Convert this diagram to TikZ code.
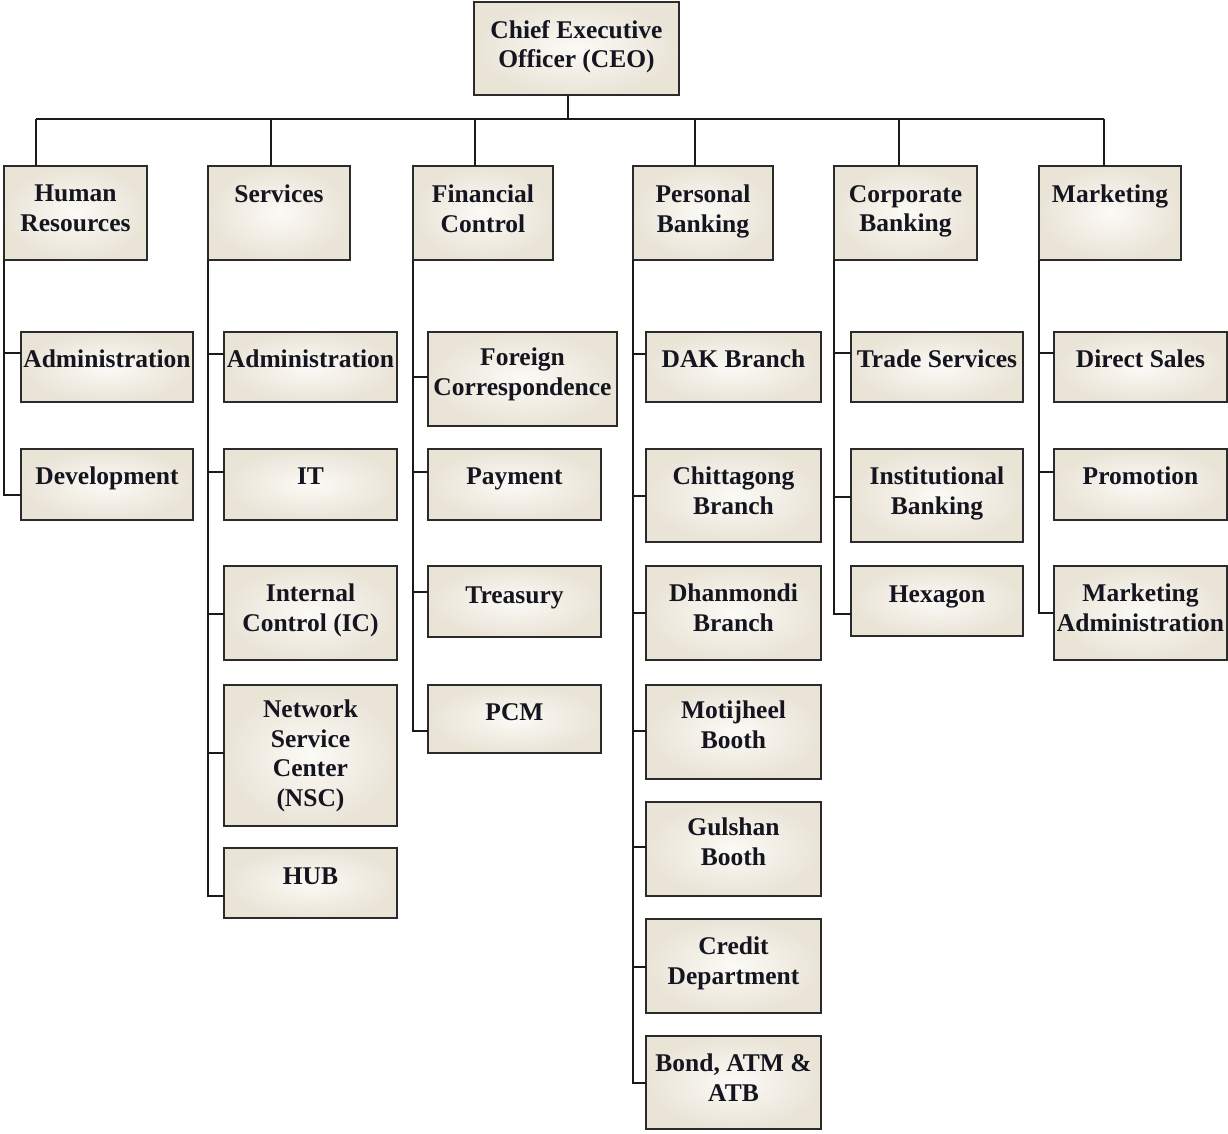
\documentclass[tikz,border=0pt]{standalone}
\usepackage{fontspec}
\setmainfont{Liberation Serif}
\usetikzlibrary{calc}
\definecolor{boxline}{HTML}{2B2B2B}
\definecolor{conline}{HTML}{1A1A1A}
\definecolor{boxin}{HTML}{FBFAF6}
\definecolor{boxout}{HTML}{EAE4D7}
\definecolor{txt}{HTML}{15151F}
\tikzset{
  obox/.style={draw=boxline, line width=2.2pt, shading=radial, inner color=boxin, outer color=boxout, inner sep=0pt, outer sep=0pt},
  otext/.style={inner sep=0pt, align=center, text=txt, font=\fontsize{25.5}{29.5}\selectfont\bfseries, execute at begin node=\strut},
  conn/.style={draw=conline, line width=2pt}
}
% name, x1, y1, x2, y2, text offset, text
\newcommand\obox[7]{%
  \node[obox, minimum width={(#4-#2)*1pt}, minimum height={(#5-#3)*1pt}] (#1) at ({(#2+#4)/2},{(#3+#5)/2}) {};
  \node[otext, anchor=north] (#1-t) at ([yshift=-#6pt]#1.north) {#7};
}
\newcommand\otick[2]{\coordinate (#1-k) at ([yshift=-#2pt]#1.north west);}
\begin{document}
\begin{tikzpicture}[x=1pt,y=-1pt]
\useasboundingbox[fill=white] (0,0) rectangle (1228,1133);
% top
\obox{ceo}{474}{2}{679}{95}{18}{Chief Executive\\Officer (CEO)}
% level 1
\obox{hr}{4}{166}{147}{260}{19}{Human\\Resources}
\obox{sv}{208}{166}{350}{260}{16}{Services}
\obox{fc}{413}{166}{553}{260}{19}{Financial\\Control}
\obox{pb}{633}{166}{773}{260}{19}{Personal\\Banking}
\obox{cb}{834}{166}{977}{260}{19}{Corporate\\Banking}
\obox{mk}{1039}{166}{1181}{260}{16}{Marketing}
% level 2
\obox{hr1}{21}{332}{193}{402}{15}{Administration}
\obox{hr2}{21}{449}{193}{520}{15}{Development}
\obox{sv1}{224}{332}{397}{402}{15}{Administration}
\obox{sv2}{224}{449}{397}{520}{15}{IT}
\obox{sv3}{224}{566}{397}{660}{18}{Internal\\Control (IC)}
\obox{sv4}{224}{685}{397}{826}{15}{Network\\Service\\Center\\(NSC)}
\obox{sv5}{224}{848}{397}{918}{16}{HUB}
\obox{fc1}{428}{332}{617}{426}{16}{Foreign\\Correspondence}
\obox{fc2}{428}{449}{601}{520}{15}{Payment}
\obox{fc3}{428}{566}{601}{637}{17}{Treasury}
\obox{fc4}{428}{685}{601}{753}{15}{PCM}
\obox{pb1}{646}{332}{821}{402}{15}{DAK Branch}
\obox{pb2}{646}{449}{821}{542}{18}{Chittagong\\Branch}
\obox{pb3}{646}{566}{821}{660}{18}{Dhanmondi\\Branch}
\obox{pb4}{646}{685}{821}{779}{16}{Motijheel\\Booth}
\obox{pb5}{646}{802}{821}{896}{16}{Gulshan\\Booth}
\obox{pb6}{646}{919}{821}{1013}{18}{Credit\\Department}
\obox{pb7}{646}{1036}{821}{1129}{18}{Bond, ATM \&\\ATB}
\obox{cb1}{851}{332}{1023}{402}{15}{Trade Services}
\obox{cb2}{851}{449}{1023}{542}{18}{Institutional\\Banking}
\obox{cb3}{851}{566}{1023}{636}{16}{Hexagon}
\obox{mk1}{1054}{332}{1227}{402}{15}{Direct Sales}
\obox{mk2}{1054}{449}{1227}{520}{15}{Promotion}
\obox{mk3}{1054}{566}{1227}{660}{18}{Marketing\\Administration}
% top connectors
\coordinate (bus) at (568,119);
\coordinate (hr-s) at ([xshift=32pt]hr.north west);
\coordinate (sv-s) at ([xshift=63pt]sv.north west);
\coordinate (fc-s) at ([xshift=62pt]fc.north west);
\coordinate (pb-s) at ([xshift=62pt]pb.north west);
\coordinate (cb-s) at ([xshift=65pt]cb.north west);
\coordinate (mk-s) at ([xshift=65pt]mk.north west);
\draw[conn] (ceo.south -| bus) -- (bus);
\draw[conn] (hr-s |- bus) -- (mk-s |- bus);
\foreach \s in {hr,sv,fc,pb,cb,mk} \draw[conn] (\s-s |- bus) -- (\s-s);
% ticks
\otick{hr1}{21}\otick{hr2}{46}
\otick{sv1}{22}\otick{sv2}{23}\otick{sv3}{48}\otick{sv4}{68}\otick{sv5}{48}
\otick{fc1}{45}\otick{fc2}{23}\otick{fc3}{26}\otick{fc4}{46}
\otick{pb1}{22}\otick{pb2}{47}\otick{pb3}{47}\otick{pb4}{46}\otick{pb5}{45}\otick{pb6}{48}\otick{pb7}{47}
\otick{cb1}{21}\otick{cb2}{48}\otick{cb3}{48}
\otick{mk1}{21}\otick{mk2}{23}\otick{mk3}{47}
% column connectors
\draw[conn] (hr.south west) |- (hr2-k);
\draw[conn] (hr.south west |- hr1-k) -- (hr1-k);
\draw[conn] (sv.south west) |- (sv5-k);
\foreach \c in {sv1,sv2,sv3,sv4} \draw[conn] (sv.south west |- \c-k) -- (\c-k);
\draw[conn] (fc.south west) |- (fc4-k);
\foreach \c in {fc1,fc2,fc3} \draw[conn] (fc.south west |- \c-k) -- (\c-k);
\draw[conn] (pb.south west) |- (pb7-k);
\foreach \c in {pb1,pb2,pb3,pb4,pb5,pb6} \draw[conn] (pb.south west |- \c-k) -- (\c-k);
\draw[conn] (cb.south west) |- (cb3-k);
\foreach \c in {cb1,cb2} \draw[conn] (cb.south west |- \c-k) -- (\c-k);
\draw[conn] (mk.south west) |- (mk3-k);
\foreach \c in {mk1,mk2} \draw[conn] (mk.south west |- \c-k) -- (\c-k);
\end{tikzpicture}
\end{document}
